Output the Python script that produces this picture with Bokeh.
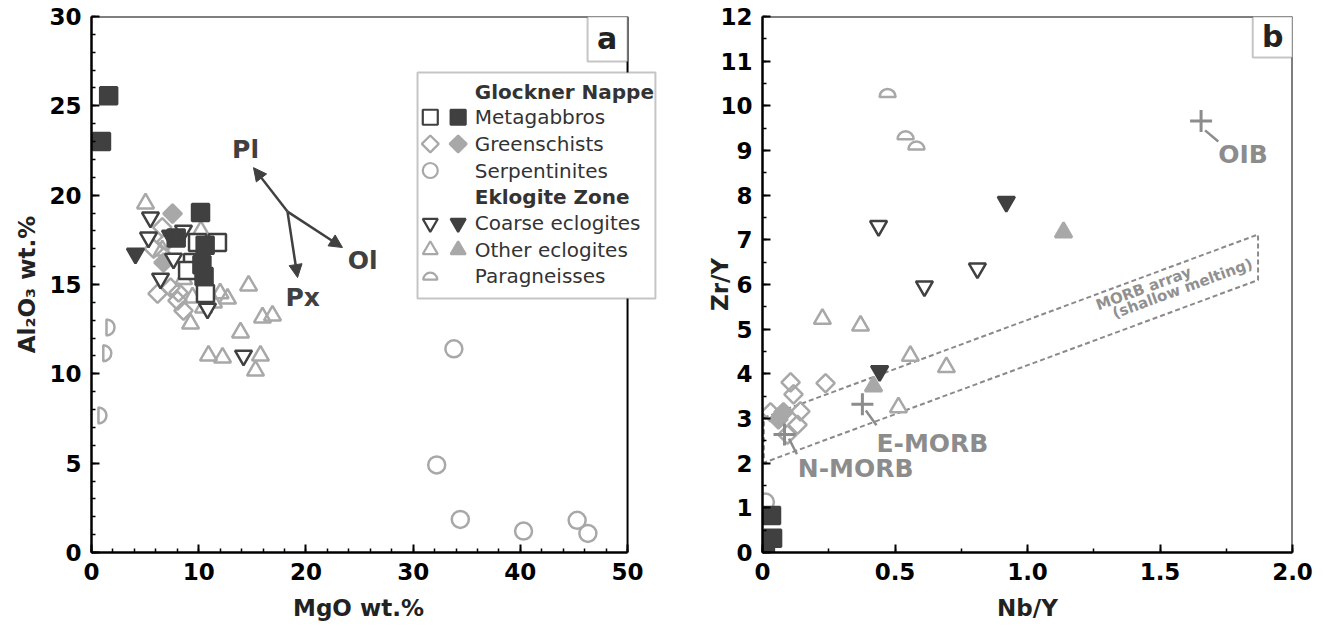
import numpy as np
from bokeh.plotting import figure
from bokeh.layouts import row
from bokeh.models import (Range1d, SingleIntervalTicker, Label, BoxAnnotation, Arrow,
                          NormalHead, NumeralTickFormatter)
from bokeh.embed import file_html
from bokeh.resources import INLINE

DARK = "#404040"
GREY = "#a8a8a8"
LGREY = "#8c8c8c"
FONT = "DejaVu Sans"

# ---------------- Panel a: MgO vs Al2O3 ----------------
a_meta_fill_x = [1.6, 0.93, 10.17, 7.9, 10.6, 10.3, 10.5]
a_meta_fill_y = [25.57, 23.0, 19.03, 17.6, 17.2, 16.1, 15.45]
a_meta_open_x = [9.89, 11.75, 9.42, 8.96, 10.63]
a_meta_open_y = [17.35, 17.35, 16.23, 15.78, 14.49]
a_green_open_x = [6.16, 7.37, 8.12, 8.58, 8.02, 7.0, 5.8, 6.6]
a_green_open_y = [14.49, 14.83, 14.55, 13.54, 14.1, 17.4, 17.0, 18.2]
a_green_fill_x = [7.56, 6.72]
a_green_fill_y = [18.97, 16.23]
a_serp_x = [33.8, 32.2, 34.4, 40.3, 45.3, 46.3]
a_serp_y = [11.4, 4.9, 1.85, 1.2, 1.8, 1.07]
a_coarse_open_x = [5.5, 5.32, 8.58, 7.65, 6.44, 10.82, 14.18]
a_coarse_open_y = [18.75, 17.63, 18.02, 16.45, 15.33, 13.65, 11.02]
a_coarse_fill_x = [4.1, 7.37]
a_coarse_fill_y = [16.73, 17.74]
a_other_open_x = [5.04, 14.65, 12.69, 9.24, 15.95, 16.88, 13.9, 10.91, 12.22, 15.76, 15.3,
                  9.42, 10.45, 11.38, 6.6, 10.2, 8.6, 12.0]
a_other_open_y = [19.53, 14.94, 14.21, 12.81, 13.15, 13.26, 12.31, 11.02, 10.91, 11.02, 10.18,
                  14.27, 13.71, 13.99, 16.9, 18.0, 15.3, 14.5]
a_para_x = [1.4, 1.1, 0.65]
a_para_y = [12.6, 11.15, 7.67]

# mixing vectors (Pl, Ol, Px)
vec_origin = (18.28, 19.08)
vec_tip_x = [15.11, 23.41, 19.22]
vec_tip_y = [21.54, 17.07, 15.39]
vec_names = ["Pl", "Ol", "Px"]
vec_label_x = [14.37, 25.3, 19.7]
vec_label_y = [22.55, 16.34, 14.27]

# ---------------- Panel b: Nb/Y vs Zr/Y ----------------
b_meta_fill_x = [0.034, 0.038, 0.011]
b_meta_fill_y = [0.83, 0.32, 0.11]
b_serp_x = [0.011]
b_serp_y = [1.13]
b_green_open_x = [0.106, 0.238, 0.117, 0.143, 0.03, 0.132, 0.094]
b_green_open_y = [3.81, 3.79, 3.54, 3.16, 3.14, 2.86, 2.64]
b_green_fill_x = [0.079, 0.06]
b_green_fill_y = [3.14, 2.98]
b_other_open_x = [0.226, 0.37, 0.558, 0.694, 0.513]
b_other_open_y = [5.23, 5.08, 4.40, 4.15, 3.25]
b_other_fill_x = [0.419, 1.136]
b_other_fill_y = [3.72, 7.17]
b_coarse_open_x = [0.438, 0.611, 0.811]
b_coarse_open_y = [7.31, 5.96, 6.36]
b_coarse_fill_x = [0.92, 0.442]
b_coarse_fill_y = [7.85, 4.06]
b_para_x = [0.472, 0.54, 0.581]
b_para_y = [10.2, 9.25, 9.02]
ref_names = ["N-MORB", "E-MORB", "OIB"]
ref_x = [0.083, 0.377, 1.655]
ref_y = [2.64, 3.32, 9.66]
morb_x = [0.005, 1.87, 1.87, 0.005]
morb_y = [3.02, 7.12, 6.10, 2.01]

A_XMAX = 50.0
A_XEND = 53.54   # frame reaches a little past 50 so the legend box is not clipped


def style(p, xlabel, ylabel, xmax, ymax):
    p.xgrid.visible = False
    p.ygrid.visible = False
    p.outline_line_color = None
    p.background_fill_color = "white"
    p.border_fill_color = "white"
    for ax in (p.xaxis[0], p.yaxis[0]):
        ax.axis_line_width = 2.5
        ax.axis_line_color = "black"
        ax.major_tick_in = 8
        ax.major_tick_out = 0
        ax.minor_tick_in = 4
        ax.minor_tick_out = 0
        ax.major_tick_line_width = 2
        ax.minor_tick_line_width = 1.5
        ax.major_tick_line_color = "black"
        ax.minor_tick_line_color = "black"
        ax.major_label_text_font = FONT
        ax.major_label_text_font_style = "bold"
        ax.major_label_text_font_size = "23px"
        ax.major_label_text_color = "black"
        ax.axis_label_text_font = FONT
        ax.axis_label_text_font_style = "bold"
        ax.axis_label_text_font_size = "23px"
        ax.axis_label_text_color = "#222222"
    p.xaxis[0].axis_label = xlabel
    p.yaxis[0].axis_label = ylabel
    p.xaxis[0].bounds = (0, xmax)
    p.xaxis[0].major_label_standoff = 10
    p.yaxis[0].major_label_standoff = 10
    p.xaxis[0].axis_label_standoff = 12
    p.yaxis[0].axis_label_standoff = 6
    # top and right frame lines
    p.segment([0, xmax], [ymax, 0], [xmax, xmax], [ymax, ymax], line_color="black", line_width=2)


def corner_box(p, left, right, bottom, top, text, tx, ty):
    p.add_layout(BoxAnnotation(left=left, right=right, bottom=bottom, top=top,
                               fill_color="white", fill_alpha=1, line_color=DARK, line_width=2))
    p.add_layout(Label(x=tx, y=ty, text=text, text_font=FONT, text_font_style="bold",
                       text_font_size="30px", text_color="#222222", text_align="center",
                       text_baseline="middle"))


# ================= Panel a =================
p1 = figure(width=680, height=636, x_range=Range1d(0, A_XEND), y_range=Range1d(0, 30),
            output_backend="svg", toolbar_location=None,
            min_border_left=91, min_border_right=15, min_border_top=16, min_border_bottom=84)
# trailing no-break spaces keep the title centred under the 0-50 axis, not the wider frame
style(p1, "MgO wt.%" + "\u00a0" * 5, "Al\u2082O\u2083 wt.%", A_XMAX, 30)
p1.xaxis[0].ticker = SingleIntervalTicker(interval=10, num_minor_ticks=5)
p1.yaxis[0].ticker = SingleIntervalTicker(interval=5, num_minor_ticks=5)

S = 17
DS = 13   # diamond = square rotated 45 degrees
p1.scatter(a_serp_x, a_serp_y, marker="circle", size=S, fill_color=None, line_color=GREY, line_width=2.5)
p1.wedge(a_para_x, a_para_y, radius=8, radius_units="screen", start_angle=-np.pi / 2,
         end_angle=np.pi / 2, fill_color="white", line_color=GREY, line_width=2.5)
p1.scatter(a_other_open_x, a_other_open_y, marker="triangle", size=S, fill_color=None,
           line_color=GREY, line_width=2.5)
p1.scatter(a_green_open_x, a_green_open_y, marker="square", angle=np.pi / 4, size=DS, fill_color=None,
           line_color=GREY, line_width=2.5)
p1.scatter(a_green_fill_x, a_green_fill_y, marker="square", angle=np.pi / 4, size=DS, fill_color=GREY,
           line_color=GREY, line_width=2.5)
p1.scatter(a_coarse_open_x, a_coarse_open_y, marker="inverted_triangle", size=S, fill_color="white",
           line_color=DARK, line_width=2.5)
p1.scatter(a_meta_open_x, a_meta_open_y, marker="square", size=S, fill_color="white",
           line_color=DARK, line_width=2.5)
p1.scatter(a_coarse_fill_x, a_coarse_fill_y, marker="inverted_triangle", size=S, fill_color=DARK,
           line_color=DARK, line_width=2.5)
p1.scatter(a_meta_fill_x, a_meta_fill_y, marker="square", size=S, fill_color=DARK,
           line_color=DARK, line_width=2.5)

for tx, ty in zip(vec_tip_x, vec_tip_y):
    p1.add_layout(Arrow(x_start=vec_origin[0], y_start=vec_origin[1], x_end=tx, y_end=ty,
                        line_color=DARK, line_width=2.5,
                        end=NormalHead(size=13, fill_color=DARK, line_color=DARK)))
for name, lx, ly in zip(vec_names, vec_label_x, vec_label_y):
    p1.add_layout(Label(x=lx, y=ly, text=name, text_font=FONT, text_font_style="bold",
                        text_font_size="25px", text_color=DARK, text_align="center",
                        text_baseline="middle"))

corner_box(p1, 46.27, 50, 27.48, 30, "a", 48.1, 28.75)

# legend (panel a)
leg_rows_y = [25.76, 24.36, 22.87, 21.38, 19.92, 18.43, 16.94, 15.47]
leg_text = ["Glockner Nappe", "Metagabbros", "Greenschists", "Serpentinites",
            "Eklogite Zone", "Coarse eclogites", "Other eclogites", "Paragneisses"]
p1.add_layout(BoxAnnotation(left=30.41, right=52.6, bottom=14.21, top=26.86,
                            fill_color="white", fill_alpha=1, line_color=DARK, line_width=2))
for i, t in enumerate(leg_text):
    bold = i in (0, 4)
    p1.add_layout(Label(x=35.75, y=leg_rows_y[i], text=t, text_font=FONT,
                        text_font_style="bold" if bold else "normal", text_font_size="20px",
                        text_color="#333333", text_baseline="middle", level="overlay"))
LX1, LX2 = 31.6, 34.2
LS = 15
r = [p1.scatter([LX1], [leg_rows_y[1]], marker="square", size=LS, fill_color="white", line_color=DARK, line_width=2.2),
     p1.scatter([LX2], [leg_rows_y[1]], marker="square", size=LS, fill_color=DARK, line_color=DARK, line_width=2.2),
     p1.scatter([LX1], [leg_rows_y[2]], marker="square", angle=np.pi / 4, size=12, fill_color="white", line_color=GREY, line_width=2.2),
     p1.scatter([LX2], [leg_rows_y[2]], marker="square", angle=np.pi / 4, size=12, fill_color=GREY, line_color=GREY, line_width=2.2),
     p1.scatter([LX1], [leg_rows_y[3]], marker="circle", size=LS, fill_color="white", line_color=GREY, line_width=2.2),
     p1.scatter([LX1], [leg_rows_y[5]], marker="inverted_triangle", size=LS, fill_color="white", line_color=DARK, line_width=2.2),
     p1.scatter([LX2], [leg_rows_y[5]], marker="inverted_triangle", size=LS, fill_color=DARK, line_color=DARK, line_width=2.2),
     p1.scatter([LX1], [leg_rows_y[6]], marker="triangle", size=LS, fill_color="white", line_color=GREY, line_width=2.2),
     p1.scatter([LX2], [leg_rows_y[6]], marker="triangle", size=LS, fill_color=GREY, line_color=GREY, line_width=2.2),
     p1.wedge([LX1], [leg_rows_y[7] - 0.2], radius=7, radius_units="screen", start_angle=0, end_angle=np.pi,
              fill_color="white", line_color=GREY, line_width=2.2)]
for rr in r:
    rr.level = "overlay"

# ================= Panel b =================
p2 = figure(width=643, height=636, x_range=Range1d(0, 2), y_range=Range1d(0, 12),
            output_backend="svg", toolbar_location=None,
            min_border_left=82, min_border_right=31, min_border_top=16, min_border_bottom=84)
style(p2, "Nb/Y", "Zr/Y", 2, 12)
p2.yaxis[0].axis_label_standoff = -16
p2.xaxis[0].ticker = SingleIntervalTicker(interval=0.5, num_minor_ticks=2)
p2.yaxis[0].ticker = SingleIntervalTicker(interval=1, num_minor_ticks=2)
p2.xaxis[0].formatter = NumeralTickFormatter(format="0.0")
p2.xaxis[0].major_label_overrides = {0: "0"}

p2.patch(morb_x, morb_y, fill_color=None, line_color="#8a8a8a", line_width=2, line_dash="5 3")
p2.add_layout(Label(x=1.438, y=5.91, text="MORB array", text_font=FONT, text_font_style="bold",
                    text_font_size="15px", text_color="#909090", angle=0.351, text_align="center",
                    text_baseline="middle"))
p2.add_layout(Label(x=1.585, y=5.91, text="(shallow melting)", text_font=FONT, text_font_style="bold",
                    text_font_size="15px", text_color="#909090", angle=0.351, text_align="center",
                    text_baseline="middle"))

S2 = 17
p2.scatter(b_serp_x, b_serp_y, marker="circle", size=S2, fill_color=None, line_color=GREY, line_width=2.5)
p2.wedge(b_para_x, b_para_y, radius=8, radius_units="screen", start_angle=0, end_angle=np.pi,
         fill_color="white", line_color=GREY, line_width=2.5)
p2.scatter(b_other_open_x, b_other_open_y, marker="triangle", size=S2, fill_color=None,
           line_color=GREY, line_width=2.5)
p2.scatter(b_green_open_x, b_green_open_y, marker="square", angle=np.pi / 4, size=DS, fill_color=None,
           line_color=GREY, line_width=2.5)
p2.scatter(b_green_fill_x, b_green_fill_y, marker="square", angle=np.pi / 4, size=DS, fill_color=GREY,
           line_color=GREY, line_width=2.5)
p2.scatter(b_other_fill_x, b_other_fill_y, marker="triangle", size=S2, fill_color=GREY,
           line_color=GREY, line_width=2.5)
p2.scatter(b_coarse_open_x, b_coarse_open_y, marker="inverted_triangle", size=S2, fill_color="white",
           line_color=DARK, line_width=2.5)
p2.scatter(b_coarse_fill_x, b_coarse_fill_y, marker="inverted_triangle", size=S2, fill_color=DARK,
           line_color=DARK, line_width=2.5)
p2.scatter(b_meta_fill_x, b_meta_fill_y, marker="square", size=S2, fill_color=DARK,
           line_color=DARK, line_width=2.5)

# reference compositions (crosses + leader lines + labels)
p2.scatter(ref_x, ref_y, marker="cross", size=22, line_color=LGREY, line_width=3)
lead_x0 = [0.10, 0.39, 1.67]
lead_y0 = [2.55, 3.18, 9.45]
lead_x1 = [0.13, 0.43, 1.72]
lead_y1 = [2.2, 2.85, 9.2]
p2.segment(lead_x0, lead_y0, lead_x1, lead_y1, line_color=LGREY, line_width=2.5)
lab_x = [0.133, 0.43, 1.72]
lab_y = [1.87, 2.45, 8.9]
for name, lx, ly in zip(ref_names, lab_x, lab_y):
    p2.add_layout(Label(x=lx, y=ly, text=name, text_font=FONT, text_font_style="bold",
                        text_font_size="25px", text_color=LGREY, text_align="left",
                        text_baseline="middle"))

corner_box(p2, 1.85, 2, 11.08, 12, "b", 1.925, 11.55)

layout = row(p1, p2)
open("out.html", "w").write(file_html(layout, INLINE))
